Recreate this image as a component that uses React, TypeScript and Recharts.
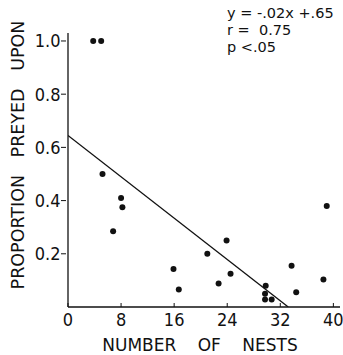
import { ComposedChart, Line, Scatter, XAxis, YAxis } from "recharts";

// nests per colony vs proportion preyed upon
const nests = [3.8, 5.0, 5.2, 8.0, 8.2, 6.8, 15.9, 16.7, 21.0, 22.7, 23.9, 24.5, 29.8, 29.7, 29.7, 30.7, 33.7, 34.4, 38.5, 39.0];
const preyed = [1.0, 1.0, 0.5, 0.41, 0.375, 0.285, 0.143, 0.066, 0.2, 0.088, 0.25, 0.125, 0.08, 0.05, 0.028, 0.028, 0.155, 0.055, 0.103, 0.38];

// fitted line endpoints (y = -.02x + .65, drawn down to the x axis)
const fitX = [0, 33.2];
const fitY = [0.645, 0];

const xTicks = [0, 8, 16, 24, 32, 40];
const yTicks = [0.2, 0.4, 0.6, 0.8, 1.0];
const annotation = ["y = -.02x +.65", "r =  0.75", "p <.05"];

const points = nests.map((x, i) => ({ x, y: preyed[i] }));
const fit = fitX.map((x, i) => ({ x, y: fitY[i] }));

const font = "'DejaVu Sans', sans-serif";
const narrow = "'Liberation Sans Narrow', 'DejaVu Sans Condensed', sans-serif";
const ink = "#111";

function XTick({ x, y, payload }: any) {
  return (
    <g>
      <line x1={x} x2={x} y1={y} y2={y - 4} stroke={ink} strokeWidth={1} />
      <text x={x} y={y + 18.5} textAnchor="middle" fontSize={18} fontFamily={narrow} fill={ink}>
        {payload.value}
      </text>
    </g>
  );
}

function YTick({ x, y, payload }: any) {
  return (
    <g>
      <line x1={x} x2={x + 5} y1={y} y2={y} stroke={ink} strokeWidth={1} />
      <text x={x - 0.5} y={y + 6.5} textAnchor="end" fontSize={18} fontFamily={narrow} fill={ink}>
        {payload.value.toFixed(1)}
      </text>
    </g>
  );
}

function Dot({ cx, cy }: any) {
  return <circle cx={cx} cy={cy} r={3} fill={ink} />;
}

export default function App() {
  return (
    <div style={{ position: "absolute", left: 0, top: 0, width: 343, height: 355, background: "#fff" }}>
      <ComposedChart width={343} height={355} margin={{ top: 33, right: 3, bottom: 0, left: 8 }}>
        <XAxis
          type="number"
          dataKey="x"
          domain={[0, 41]}
          ticks={xTicks}
          allowDataOverflow
          tickSize={0}
          tickMargin={0}
          tick={<XTick />}
          height={48}
          stroke={ink}
          strokeWidth={1.3}
        />
        <YAxis
          type="number"
          dataKey="y"
          domain={[0, 1.03]}
          ticks={yTicks}
          allowDataOverflow
          tickSize={5}
          tickLine={false}
          tick={<YTick />}
          width={60}
          stroke={ink}
          strokeWidth={1.3}
        />
        <Line data={fit} dataKey="y" type="linear" stroke={ink} strokeWidth={1.3} dot={false} isAnimationActive={false} />
        <Scatter data={points} fill={ink} shape={<Dot />} isAnimationActive={false} />
      </ComposedChart>
      <div
        style={{
          position: "absolute",
          left: 17.5,
          top: 155,
          transform: "translate(-50%, -50%) rotate(-90deg)",
          whiteSpace: "nowrap",
          fontFamily: font,
          fontSize: 17.5,
          lineHeight: "20px",
          color: ink,
          wordSpacing: 12,
        }}
      >
        PROPORTION PREYED UPON
      </div>
      <div
        style={{
          position: "absolute",
          left: 200,
          top: 345,
          transform: "translate(-50%, -50%)",
          whiteSpace: "nowrap",
          fontFamily: font,
          fontSize: 17,
          lineHeight: "20px",
          color: ink,
          wordSpacing: 16,
        }}
      >
        NUMBER OF NESTS
      </div>
      <div
        style={{
          position: "absolute",
          left: 227,
          top: 5,
          fontFamily: font,
          fontSize: 14.5,
          lineHeight: "17px",
          color: ink,
          whiteSpace: "pre",
        }}
      >
        {annotation.map((t) => (
          <div key={t}>{t}</div>
        ))}
      </div>
    </div>
  );
}
